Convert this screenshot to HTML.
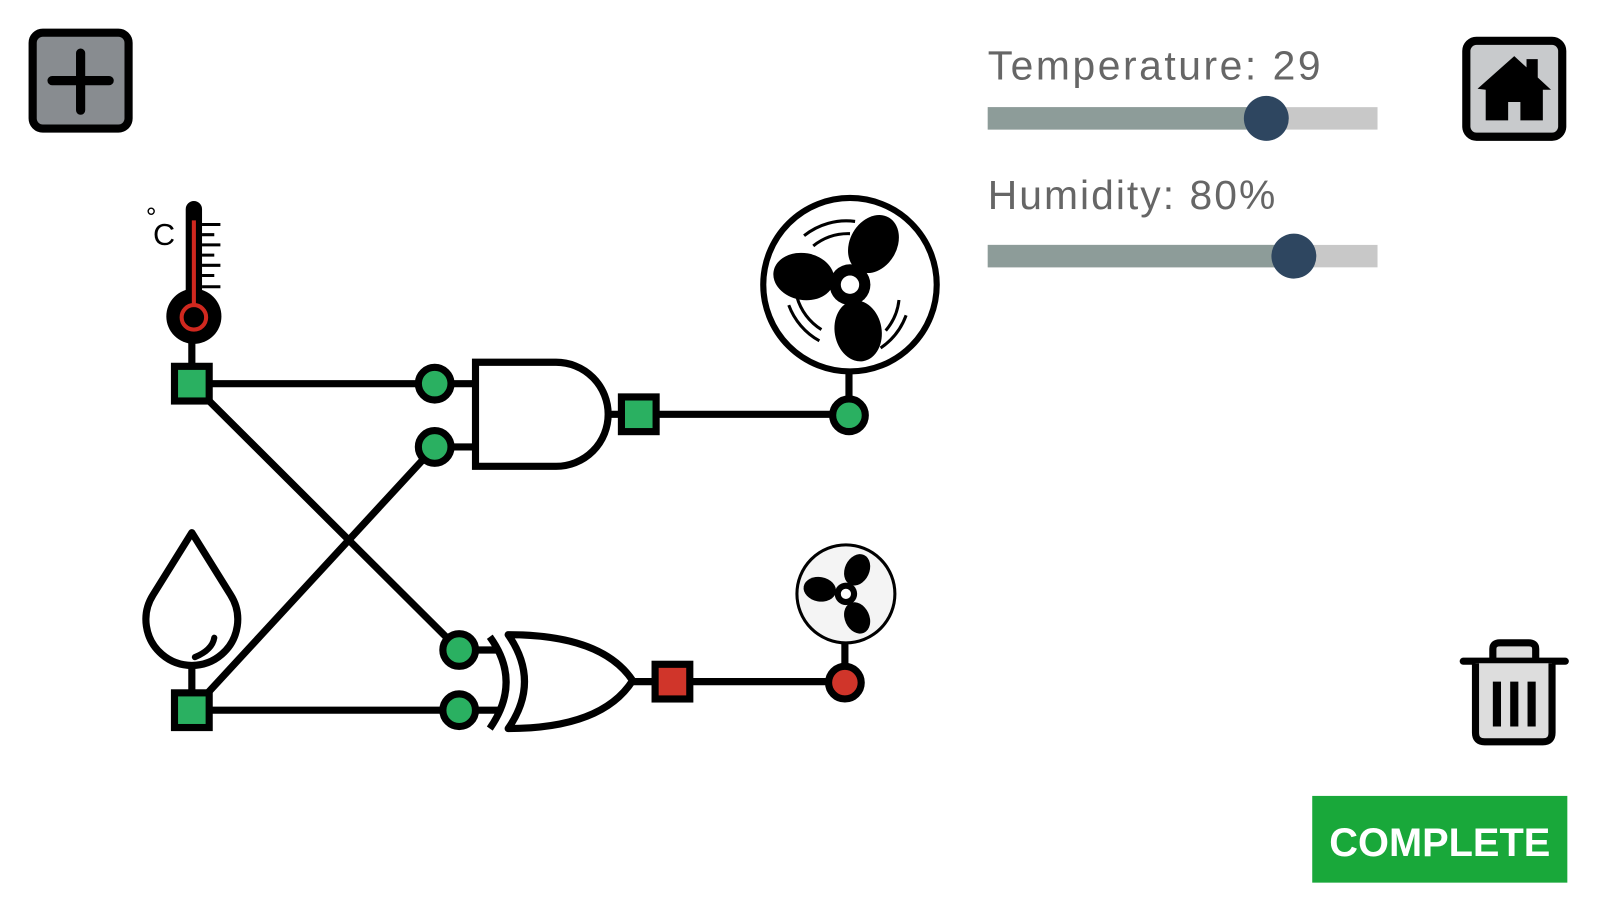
<!DOCTYPE html>
<html><head><meta charset="utf-8"><style>
html,body{margin:0;padding:0;background:#fff;width:1600px;height:900px;overflow:hidden}
svg{display:block}
</style></head><body>
<svg width="1600" height="900" viewBox="0 0 1600 900" xmlns="http://www.w3.org/2000/svg">
<g transform="scale(1.0204)">
<!-- plus button -->
<rect x="32" y="32" width="94" height="94" rx="10" fill="#888c90" stroke="#000" stroke-width="8"/>
<path d="M79 52V108M51 79H107" stroke="#000" stroke-width="9" stroke-linecap="round"/>
<!-- home button -->
<rect x="1437" y="40" width="94" height="94" rx="10" fill="#c8cacc" stroke="#000" stroke-width="8"/>
<path d="M1448 87L1484 55L1496 66V58H1507V76L1520 88L1512 88V118H1490V100H1478V118H1456V88Z" fill="#000"/>
<!-- trash -->
<g fill="none" stroke="#000" stroke-linejoin="round">
<path d="M1463 646V636Q1463 630 1470 630H1498Q1505 630 1505 636V646" stroke-width="7" fill="#ddd"/>
<path d="M1434 648H1534" stroke-width="7" stroke-linecap="round"/>
<path d="M1446 650V718Q1446 727 1455 727H1512Q1521 727 1521 718V650" stroke-width="7" fill="#ddd"/>
<path d="M1467 668V712M1484 668V712M1501 668V712" stroke-width="8"/>
</g>
<!-- complete -->
<rect x="1286" y="780" width="250" height="85" fill="#19a83a"/>
<text x="1411" y="839" text-anchor="middle" font-family="Liberation Sans, sans-serif" font-weight="bold" font-size="39" fill="#fff">COMPLETE</text>
<!-- sliders -->
<text x="968" y="78" font-family="Liberation Sans, sans-serif" font-size="40" letter-spacing="2.5" fill="#666">Temperature: 29</text>
<rect x="968" y="105" width="382" height="22" fill="#c8c8c8"/>
<rect x="968" y="105" width="273" height="22" fill="#8d9c99"/>
<circle cx="1241" cy="116" r="22" fill="#2e4660"/>
<text x="968" y="205" font-family="Liberation Sans, sans-serif" font-size="40" letter-spacing="2" fill="#666">Humidity: 80%</text>
<rect x="968" y="240" width="382" height="22" fill="#c8c8c8"/>
<rect x="968" y="240" width="300" height="22" fill="#8d9c99"/>
<circle cx="1268" cy="251" r="22" fill="#2e4660"/>
<!-- wires -->
<g stroke="#000" stroke-width="7" fill="none">
<path d="M188 330V376H426"/>
<path d="M188 376L450 637"/>
<path d="M188 696L426 438"/>
<path d="M188 650V696H450"/>
<path d="M426 376H466M426 438H466"/>
<path d="M450 637H490M450 696H490"/>
<path d="M595 406H832V365"/>
<path d="M617 668H828V625"/>
</g>
<!-- thermometer -->
<text x="143" y="222" font-family="Liberation Sans, sans-serif" font-size="26" fill="#000">°</text>
<text x="150" y="240" font-family="Liberation Sans, sans-serif" font-size="30" fill="#000">C</text>
<path d="M190 205V300" stroke="#000" stroke-width="16" stroke-linecap="round"/>
<circle cx="190" cy="310" r="27" fill="#000"/>
<path d="M190 216V300" stroke="#d0281f" stroke-width="4"/>
<circle cx="190" cy="311" r="12" fill="#000" stroke="#d0281f" stroke-width="4"/>
<path d="M198 220H216M198 230H210M198 240H216M198 250H210M198 260H216M198 270H210M198 281H216" stroke="#000" stroke-width="3"/>
<!-- drop -->
<path d="M188 522L226 583A45 45 0 1 1 150 583Z" fill="#fff" stroke="#000" stroke-width="7" stroke-linejoin="round"/>
<path d="M191 644Q208 637 210 625" fill="none" stroke="#000" stroke-width="6" stroke-linecap="round"/>
<!-- AND gate -->
<path d="M466 355H545A51 51 0 0 1 545 457H466Z" fill="#fff" stroke="#000" stroke-width="7"/>
<!-- XOR gate -->
<path d="M498 622Q590 622 620 667Q590 714 498 714Q530 668 498 622Z" fill="#fff" stroke="#000" stroke-width="7" stroke-linejoin="round"/>
<path d="M480 624Q512 668 480 714" fill="none" stroke="#000" stroke-width="7"/>
<!-- nodes -->
<g stroke="#000" stroke-width="7">
<rect x="171" y="359" width="34" height="34" fill="#2ab061"/>
<rect x="171" y="679" width="34" height="34" fill="#2ab061"/>
<rect x="609" y="389" width="34" height="34" fill="#2ab061"/>
<rect x="642" y="651" width="34" height="34" fill="#d0352a"/>
<circle cx="426" cy="376" r="16" fill="#2ab061"/>
<circle cx="426" cy="438" r="16" fill="#2ab061"/>
<circle cx="450" cy="637" r="16" fill="#2ab061"/>
<circle cx="450" cy="696" r="16" fill="#2ab061"/>
<circle cx="832" cy="407" r="16" fill="#2ab061"/>
<circle cx="828" cy="669" r="16" fill="#d0352a"/>
</g>
<!-- big fan -->
<g transform="translate(833,279)">
<circle r="85" fill="#fff" stroke="#000" stroke-width="6"/>
<g fill="#000">
<ellipse rx="30" ry="23" transform="rotate(-60) translate(46,0)"/>
<ellipse rx="30" ry="23" transform="rotate(190) translate(46,0)"/>
<ellipse rx="30" ry="23" transform="rotate(80) translate(46,0)"/>
</g>
<circle r="20" fill="#000"/><circle r="9" fill="#fff"/>
<g fill="none" stroke="#000" stroke-width="3">
<path d="M-45 -48A66 66 0 0 1 5 -62"/><path d="M-36 -38A55 55 0 0 1 0 -50"/>
<path d="M55 30A66 66 0 0 1 30 62"/><path d="M48 15A55 55 0 0 1 35 45"/>
<path d="M-60 20A66 66 0 0 0 -30 55"/><path d="M-52 12A55 55 0 0 0 -28 44"/>
</g>
</g>
<!-- small fan -->
<g transform="translate(829,582)">
<circle r="48" fill="#f4f4f4" stroke="#000" stroke-width="3"/>
<g fill="#000">
<ellipse rx="16" ry="12" transform="rotate(-65) translate(26,0)"/>
<ellipse rx="16" ry="12" transform="rotate(190) translate(26,0)"/>
<ellipse rx="16" ry="12" transform="rotate(65) translate(26,0)"/>
</g>
<circle r="11" fill="#000"/><circle r="5" fill="#fff"/>
</g>
</g>
</svg>
</body></html>
